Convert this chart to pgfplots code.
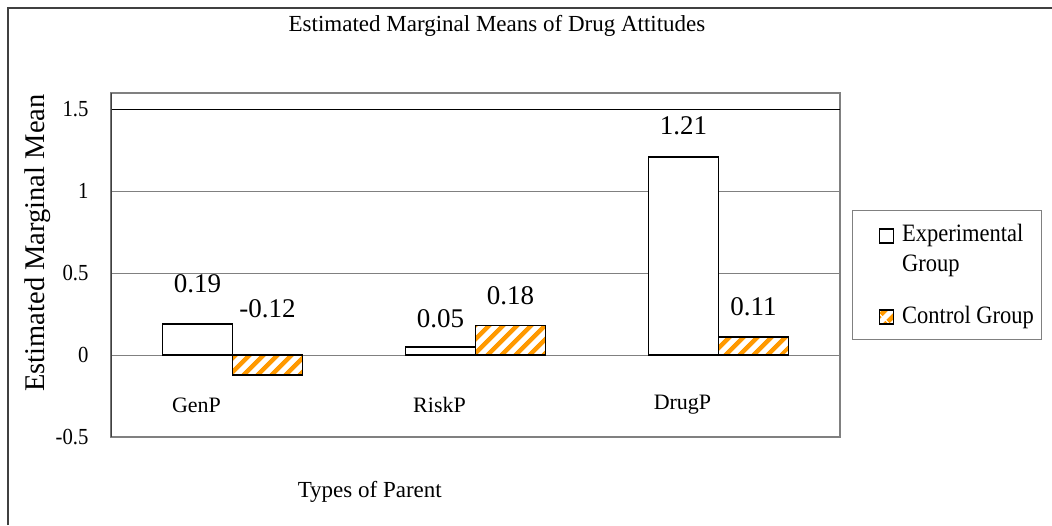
\documentclass[border=0pt]{standalone}
\usepackage{pgfplots}
\pgfplotsset{compat=1.18}
\usepackage{fontspec}
\setmainfont{Liberation Serif}
\newfontfamily\cond{Liberation Serif}[FakeStretch=0.9]
\usetikzlibrary{patterns.meta}
\definecolor{hatch}{RGB}{255,153,0}
\definecolor{frame}{RGB}{64,64,64}
\definecolor{gline}{RGB}{128,128,128}
\begin{document}
\begin{tikzpicture}[x=1pt,y=1pt]
\useasboundingbox (0,0) rectangle (1052,-525);
\fill[white] (0,0) rectangle (1052,-525);
\draw[frame, line width=2pt] (8,-525) -- (8,-7.5) -- (1052,-7.5);
\begin{axis}[
 at={(111pt,-437pt)}, anchor=south west,
 width=729pt, height=344pt, scale only axis,
 xmin=-0.5, xmax=2.5, ymin=-0.5, ymax=1.6,
 ybar=0pt, bar width=70pt,
 xtick={0,1,2}, xticklabels={GenP,RiskP,DrugP},
 xticklabel style={anchor=center, xshift=-36pt, yshift=32pt, font=\fontsize{22}{26}\selectfont},
 ytick={-0.5,0,0.5,1,1.5}, yticklabels={-0.5,0,0.5,1,1.5},
 yticklabel style={anchor=east, xshift=-19pt, font=\cond\fontsize{23}{26}\selectfont},
 major tick length=0pt,
 ymajorgrids, grid style={gline, line width=1.2pt},
 axis line style={gline, line width=1.2pt},
 title={Estimated Marginal Means of Drug Attitudes},
 title style={at={(axis description cs:0.5295,1.177)}, anchor=center, font=\fontsize{23}{26}\selectfont},
 xlabel={Types of Parent},
 xlabel style={at={(axis description cs:0.355,-0.160)}, anchor=center, font=\fontsize{23}{26}\selectfont},
 ylabel={Estimated Marginal Mean},
 ylabel style={at={(axis description cs:-0.1001,0.564)}, anchor=center, rotate=0, font=\fontsize{28.5}{32}\selectfont},
 legend style={at={(1.0165,0.660)}, anchor=north west, draw=gline, line width=1pt,
   font=\cond\fontsize{25}{30}\selectfont, inner xsep=6pt, inner ysep=12pt, row sep=26pt, column sep=6pt,
   cells={anchor=west, align=left, inner sep=0pt}},
]
\addplot[fill=white, draw=black, line width=1.5pt,
  legend image code/.code={\path (0pt,0pt); \path (34pt,14pt); \draw[fill=white,draw=black,line width=1.5pt,overlay] (20pt,6pt) rectangle (34pt,20pt);}]
  coordinates {(0,0.19) (1,0.05) (2,1.21)};
\addplot[draw=black, line width=1.5pt, pattern={Lines[angle=45,distance=10.5pt,line width=5pt]}, pattern color=hatch,
  legend image code/.code={\path (0pt,0pt); \path (34pt,14pt); \draw[draw=black,line width=1.5pt,pattern={Lines[angle=45,distance=10.5pt,line width=5pt]},pattern color=hatch,overlay] (20pt,-8pt) rectangle (34pt,6pt);}]
  coordinates {(0,-0.12) (1,0.18) (2,0.11)};
\legend{Experimental\\Group, Control Group}
\draw[black, line width=1.2pt] (axis cs:-0.5,1.5) -- (axis cs:2.5,1.5);
\draw[frame, line width=2pt] (rel axis cs:0,0) -- (rel axis cs:0,1);
\begin{scope}[font=\fontsize{27}{30}\selectfont]
\node at ([xshift=-35pt]axis cs:0,0.433) {0.19};
\node at ([xshift=35pt]axis cs:0,0.281) {-0.12};
\node at ([xshift=-35pt]axis cs:1,0.220) {0.05};
\node at ([xshift=35pt]axis cs:1,0.360) {0.18};
\node at ([xshift=-35pt]axis cs:2,1.398) {1.21};
\node at ([xshift=35pt]axis cs:2,0.293) {0.11};
\end{scope}
\end{axis}
\end{tikzpicture}
\end{document}
